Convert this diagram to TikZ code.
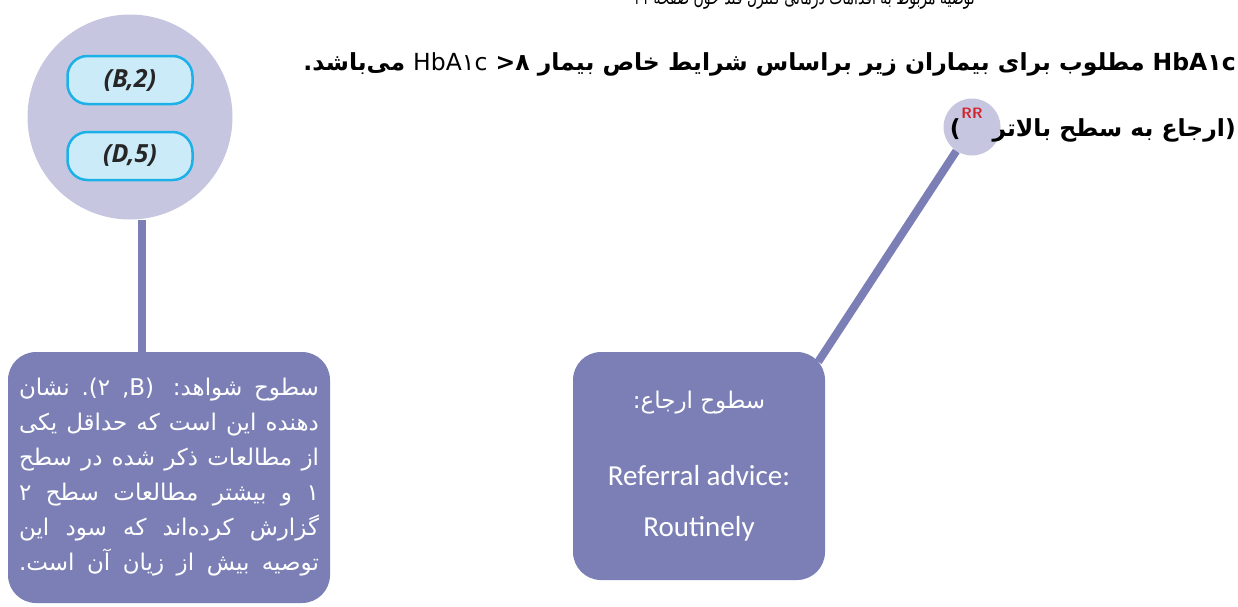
\documentclass[tikz,border=0pt]{standalone}
\usepackage{fontspec}
\setmainfont{Carlito}
\newfontfamily\farsi[Script=Arabic,BoldFont={DejaVu Sans Bold}]{DejaVu Sans}
\newfontfamily\farsinarrow[Script=Arabic,FakeStretch=0.7]{DejaVu Sans}
\newfontfamily\latn[BoldFont={DejaVu Sans Bold}]{DejaVu Sans}
\newfontfamily\pillfont{Open Sans}
\TeXXeTstate=1
\usetikzlibrary{calc}
\definecolor{BoxClr}{RGB}{123,127,181}
\definecolor{CircClr}{RGB}{198,198,224}
\definecolor{PillClr}{RGB}{204,235,249}
\definecolor{PillLine}{RGB}{28,176,232}
\definecolor{RRClr}{RGB}{210,35,42}
\tikzset{
  evbox/.style={fill=BoxClr,rounded corners=28pt,inner sep=0pt,text=white},
  pill/.style={draw=PillLine,line width=2.5pt,fill=PillClr,rounded corners=20pt,
    minimum width=125pt,minimum height=48pt,text=black!85,
    font=\pillfont\bfseries\itshape\fontsize{25}{25}\selectfont},
  stem/.style={line width=8pt,color=BoxClr},
  headline/.style={anchor=base east,inner sep=0pt,font=\farsi\bfseries\fontsize{23.5}{23.5}\selectfont}
}

\begin{document}
\begin{tikzpicture}[x=1pt,y=-1pt]
\useasboundingbox (0,0) rectangle (1238,606);

\node[headline,font=\farsinarrow\fontsize{20}{20}\selectfont] (page) at (975,4)
  {\beginR توصیه مربوط به اقدامات درمانی کنترل قند خون صفحه ۲۱\endR};
\node[headline] (goal) at (1236,70)
  {\beginR\beginL{\latn HbA}۱{\latn c}\endL{} مطلوب برای بیماران زیر براساس شرایط خاص بیمار
   \beginL{\mdseries{\latn HbA}۱{\latn c}} {\latn >}۸\endL{} می‌باشد.\endR};

\node[circle,fill=CircClr,minimum size=57pt,inner sep=0pt] (rr) at (972,127) {};
\node[text=RRClr,font=\sffamily\bfseries\fontsize{15}{15}\selectfont] (rrlbl) at ([yshift=14pt]rr.center) {RR};
\node[headline] (refer) at (1236,136)
  {\beginR{\latn)}ارجاع به سطح بالاتر\hspace{32pt}{\latn(}\endR};

\node[circle,fill=CircClr,minimum size=205pt,inner sep=0pt] (ev) at (130,117) {};
\node[pill] (lvlb) at (130,80) {(B,2)};
\node[pill] (lvld) at (130,156) {(D,5)};

\node[evbox,minimum width=322pt,minimum height=251pt,text width=300pt,align=justify,
  font=\farsi\fontsize{23}{35}\selectfont] (lbox) at (169,477.5)
  {\parfillskip=0pt\beginR سطوح شواهد: \beginL{\latn.(}۲{\latn\ ,B)}\endL{} نشان\linebreak
   دهنده این است که حداقل یکی\linebreak
   از مطالعات ذکر شده در سطح\linebreak
   ۱ و بیشتر مطالعات سطح ۲\linebreak
   گزارش کرده‌اند که سود این\linebreak
   توصیه بیش از زیان آن است.\endR\par};

\node[evbox,minimum width=252pt,minimum height=228pt,align=center,
  font=\fontsize{29}{51}\selectfont] (rbox) at (699,466)
  {{\farsi\fontsize{23}{23}\selectfont\beginR سطوح ارجاع:\endR}\\[26pt]
   Referral advice:\\ Routinely};

\draw[stem] ([xshift=12pt]ev.south) -- ([xshift=12pt]ev.south |- lbox.north);
\draw[stem] ([shift={(-7pt,-10pt)}]rbox.north east) -- (rr);
\end{tikzpicture}
\end{document}
